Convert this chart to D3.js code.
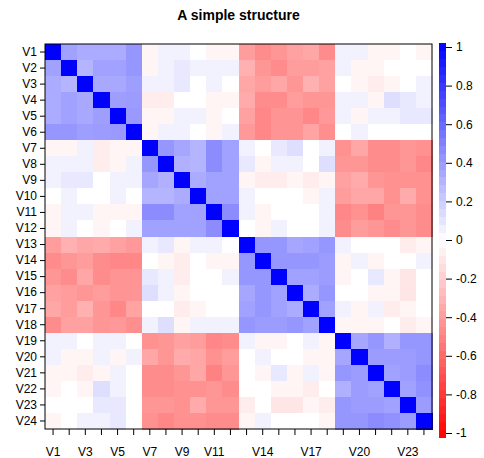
<!DOCTYPE html>
<html>
<head>
<meta charset="utf-8">
<script src="https://cdn.jsdelivr.net/npm/d3@7"></script>
<style>
  body { margin: 0; background: #fff; }
  text { font-family: "Liberation Sans", Arial, sans-serif; }
</style>
</head>
<body>
<div id="chart"></div>
<script>
// Variable names (rows top to bottom, columns left to right)
const vars = ["V1","V2","V3","V4","V5","V6","V7","V8","V9","V10","V11","V12",
              "V13","V14","V15","V16","V17","V18","V19","V20","V21","V22","V23","V24"];

// Labels R kept on the bottom axis
const xLabels = ["V1","V3","V5","V7","V9","V11","V14","V17","V20","V23"];

// Colour bar ticks
const barTicks = [-1, -0.8, -0.6, -0.4, -0.2, 0, 0.2, 0.4, 0.6, 0.8, 1];

// Upper triangle of the correlation matrix: row i holds r(Vi, Vj) for j > i
const upper = [
  [.37,.33,.33,.33,.41, -.04,.05,.05,0,-.04,-.04, -.39,-.45,-.41,-.37,-.35,-.45, .05,.05,-.04,-.04,0,-.04],
  [.29,.37,.37,.41, -.04,.05,.09,.05,.05,.05, -.31,-.41,-.45,-.39,-.39,-.37, .05,-.04,-.04,0,0,0],
  [.34,.34,.38, .05,.05,.09,0,.05,0, -.35,-.39,-.35,-.41,-.31,-.37, 0,-.04,-.07,-.04,0,.05],
  [.38,.39, -.07,-.07,0,0,-.04,-.04, -.33,-.45,-.45,-.39,-.41,-.41, .05,.05,-.04,.13,.09,.05],
  [.40, -.04,-.04,.05,.05,-.04,0, -.37,-.47,-.42,-.42,-.47,-.40, .05,-.04,.05,.05,.09,.09],
  [-.04,.05,.05,0,-.04,.05, -.40,-.47,-.42,-.42,-.36,-.44, 0,.05,0,0,0,0],
  [.41,.35,.29,.45,.37, .05,0,.09,.13,0,.05, -.43,-.35,-.45,-.45,-.41,-.43],
  [.31,.29,.45,.37, .09,-.04,.05,.05,0,.13, -.41,-.41,-.45,-.45,-.41,-.47],
  [.33,.37,.37, -.04,-.07,-.07,-.04,-.07,-.04, -.37,-.33,-.41,-.43,-.43,-.43],
  [.37,.37, .05,0,0,0,-.04,.05, -.39,-.35,-.35,-.43,-.33,-.43],
  [.45, .05,-.04,0,0,0,.05, -.47,-.43,-.49,-.41,-.41,-.45],
  [0,-.04,.05,0,0,.05, -.45,-.39,-.41,-.45,-.41,-.45],
  [.41,.41,.35,.37,.41, .05,0,0,0,-.07,-.04],
  [.41,.41,.41,.39, -.04,.05,-.04,0,0,.05],
  [.37,.37,.39, -.04,0,.09,-.04,-.1,0],
  [.33,.41, 0,0,-.04,-.04,-.1,0],
  [.37, .05,-.04,.05,-.07,-.04,0],
  [-.04,-.04,-.04,0,-.07,-.04],
  [.35,.41,.31,.41,.41],
  [.39,.39,.39,.41],
  [.37,.39,.45],
  [.37,.43],
  [.39]
];

// Build the full symmetric matrix as cells
const cells = [];
vars.forEach((ri, i) => {
  vars.forEach((cj, j) => {
    let v;
    if (i === j) v = 1;
    else if (j > i) v = upper[i][j - i - 1];
    else v = upper[j][i - j - 1];
    cells.push({row: ri, col: cj, value: v});
  });
});

const W = 484, H = 458;
const plot = {left: 45, right: 432, top: 44, bottom: 429};

const svg = d3.select("#chart")
  .append("svg")
    .attr("width", W)
    .attr("height", H);

const color = d3.scaleLinear()
  .domain([-1, 0, 1])
  .range(["#ff0000", "#ffffff", "#0000ff"]);

const x = d3.scaleBand().domain(vars).range([plot.left, plot.right]);
const y = d3.scaleBand().domain(vars).range([plot.top, plot.bottom]);

// Cells
svg.append("g")
  .selectAll("rect")
  .data(cells)
  .join("rect")
    .attr("x", d => x(d.col))
    .attr("y", d => y(d.row))
    .attr("width", x.bandwidth() + 0.5)
    .attr("height", y.bandwidth() + 0.5)
    .attr("fill", d => color(d.value))
    .attr("shape-rendering", "crispEdges");

// Frame
svg.append("rect")
  .attr("x", plot.left)
  .attr("y", plot.top)
  .attr("width", plot.right - plot.left)
  .attr("height", plot.bottom - plot.top)
  .attr("fill", "none")
  .attr("stroke", "#000")
  .attr("stroke-width", 1);

// Left axis
const yAxis = svg.append("g")
  .attr("transform", `translate(${plot.left},0)`)
  .call(d3.axisLeft(y).tickSize(5).tickPadding(3));
yAxis.select(".domain").remove();
yAxis.selectAll("text").attr("font-size", 12).attr("fill", "#000")
  .style("font-family", "Liberation Sans, Arial, sans-serif");

// Bottom axis
const xAxis = svg.append("g")
  .attr("transform", `translate(0,${plot.bottom})`)
  .call(d3.axisBottom(x).tickSize(6).tickPadding(12)
    .tickFormat(d => xLabels.includes(d) ? d : ""));
xAxis.select(".domain").remove();
xAxis.selectAll("text").attr("font-size", 12).attr("fill", "#000")
  .style("font-family", "Liberation Sans, Arial, sans-serif");

// Colour bar
const nBins = 50;
const bins = d3.range(nBins).map(i => -1 + (i + 0.5) * 2 / nBins);
const barY = d3.scaleLinear().domain([-1, 1]).range([437, 43]);
const binH = (437 - 43) / nBins;
svg.append("g")
  .selectAll("rect")
  .data(bins)
  .join("rect")
    .attr("x", 439)
    .attr("y", d => barY(d) - binH / 2)
    .attr("width", 7)
    .attr("height", binH + 0.5)
    .attr("fill", d => color(d))
    .attr("shape-rendering", "crispEdges");

const tickY = d3.scaleLinear().domain([-1, 1]).range([433, 47]);
const cAxis = svg.append("g")
  .attr("transform", "translate(446,0)")
  .call(d3.axisRight(tickY).tickValues(barTicks).tickSize(6).tickPadding(4)
    .tickFormat(d => String(+d.toFixed(1))));
cAxis.select(".domain").remove();
cAxis.selectAll("text").attr("font-size", 12).attr("fill", "#000")
  .style("font-family", "Liberation Sans, Arial, sans-serif");

// Title
svg.append("text")
  .attr("x", (plot.left + plot.right) / 2)
  .attr("y", 20)
  .attr("text-anchor", "middle")
  .attr("font-size", 14)
  .attr("font-weight", "bold")
  .text("A simple structure");
</script>
</body>
</html>
